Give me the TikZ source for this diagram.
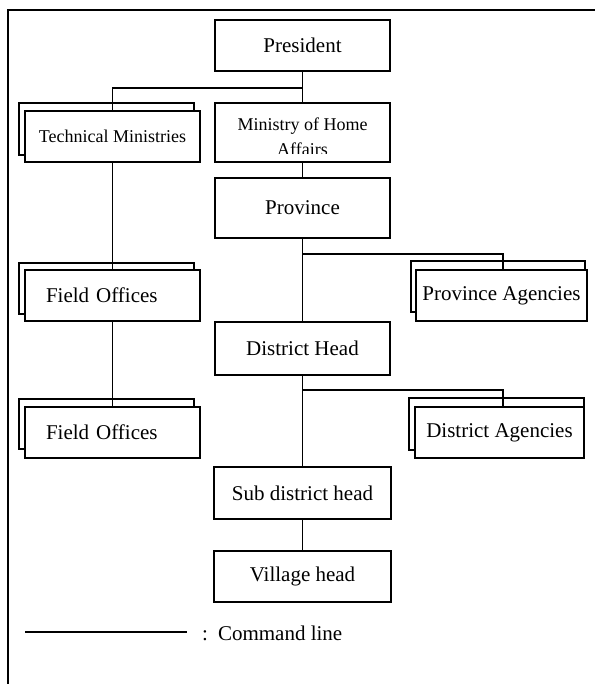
\documentclass[tikz,border=0pt]{standalone}
\usepackage{fontspec}
\setmainfont{Liberation Serif}
\begin{document}
\begin{tikzpicture}[x=1pt,y=-1pt,
  box/.style={draw=black, line width=1.8pt, fill=white, minimum width=175pt,
    minimum height=51pt, inner sep=0pt, font=\fontsize{21}{25}\selectfont},
  backbox/.style={box},
  smallbox/.style={box, font=\fontsize{18}{22}\selectfont},
  cmd/.style={line width=1.6pt},
  frameline/.style={line width=2pt}]
\useasboundingbox (0,0) rectangle (595,684);

% page frame (top and left edges)
\draw[frameline] (8,684) -- (8,10) -- (595,10);

% main chain
\node[box] (pres) at (302.5,45.5) {President};
\node[box, minimum height=59pt] (moha) at (302.5,132.5) {};
\begin{scope}
  \clip (216,104) rectangle (389,154);
  \node[anchor=base, inner sep=0pt, font=\fontsize{18}{22}\selectfont] (mohaA) at (302.5,131) {Ministry of Home};
  \node[anchor=base, inner sep=0pt, font=\fontsize{18}{22}\selectfont] (mohaB) at (302.5,155.5) {Affairs};
\end{scope}
\node[box, minimum height=60pt] (prov) at (302.5,208) {Province};
\node[box, minimum height=53pt] (dh) at (302.5,348.5) {District Head};
\node[box, minimum width=177pt, minimum height=52pt] (sdh) at (302.5,493) {Sub district head};
\node[box, minimum width=177pt] (vh) at (302.5,576.5) {Village head};

% technical line (stacked boxes)
\node[backbox, minimum height=52pt] (tmback) at (106.5,129) {};
\node[smallbox] (tm) at (112.5,136.5) {Technical Ministries};
\node[backbox] (fo1back) at (106.5,288.5) {};
\node[box, text width=133pt, inner xsep=21pt, align=left] (fo1) at (112.5,295.5) {Field Offices};
\node[backbox, minimum height=50pt] (fo2back) at (106.5,424) {};
\node[box, text width=133pt, inner xsep=21pt, align=left] (fo2) at (112.5,432.5) {Field Offices};

% agencies (stacked boxes)
\node[backbox, minimum width=174pt] (paback) at (498,286.5) {};
\node[box, minimum width=171pt] (pa) at (501.5,295.5) {Province Agencies};
\node[backbox, minimum height=52pt] (daback) at (496.5,424) {};
\node[box, minimum width=169pt] (da) at (499.5,432.5) {District Agencies};

% junctions
\coordinate (j1) at (302.5,88);
\coordinate (j2) at (302.5,254);
\coordinate (j3) at (302.5,390);

% command lines
\draw[cmd] (pres.south) -- (moha.north);
\draw[cmd] (j1) -| (tm.north);
\draw[cmd] (tm.south) -- (fo1.north);
\draw[cmd] (fo1.south) -- (fo2.north);
\draw[cmd] (moha.south) -- (prov.north);
\draw[cmd] (prov.south) -- (dh.north);
\draw[cmd] (j2) -| ([xshift=1.5pt]pa.north);
\draw[cmd] (dh.south) -- (sdh.north);
\draw[cmd] (j3) -| ([xshift=3.5pt]da.north);
\draw[cmd] (sdh.south) -- (vh.north);

% legend
\coordinate (l1) at (25,632);
\coordinate (l2) at (187,632);
\draw[cmd] (l1) -- (l2);
\node[anchor=west, inner sep=0pt, font=\fontsize{21}{25}\selectfont] (leg) at (202,633) {:\hspace{10pt}Command line};
\end{tikzpicture}
\end{document}
